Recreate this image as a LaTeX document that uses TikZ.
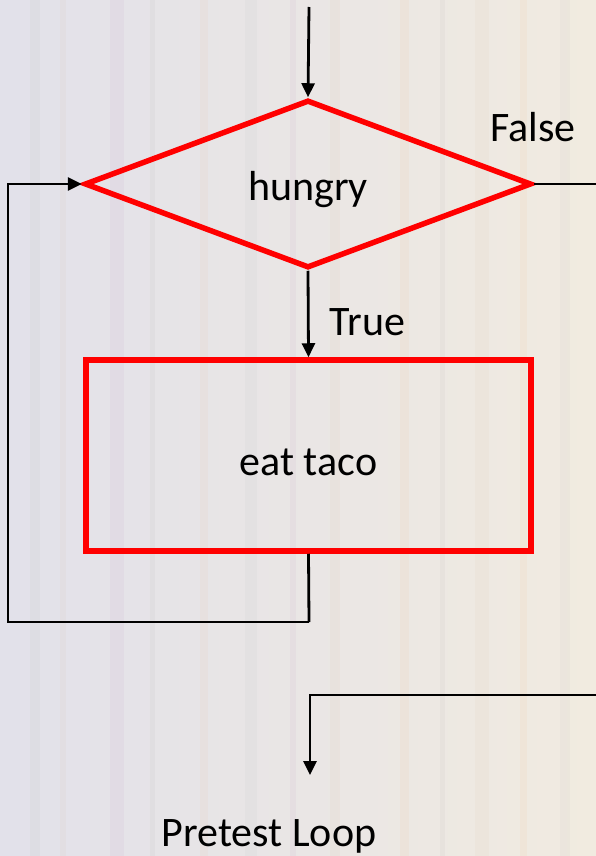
\documentclass[tikz,border=0pt]{standalone}
\usepackage{fontspec}
\setmainfont{Carlito}
\usetikzlibrary{shapes.geometric,arrows.meta}
\definecolor{bgL}{RGB}{226,225,234}
\definecolor{bgR}{RGB}{241,235,224}
\definecolor{flowred}{RGB}{255,0,0}
\tikzset{
  bigfont/.style={font=\fontsize{42}{42}\selectfont},
  decision/.style={diamond, draw=flowred, line width=5.5pt, inner sep=0pt, minimum width=447pt, minimum height=168pt, aspect=2.66, bigfont, text height=33pt, text depth=0pt},
  process/.style={rectangle, draw=flowred, line width=5.5pt, inner sep=0pt, minimum width=445pt, minimum height=191pt, bigfont, text height=39pt, text depth=0pt},
  lbl/.style={bigfont, inner sep=0pt},
  flow/.style={line width=2.8pt, draw=black},
  arr/.style={flow, -{Triangle[length=14pt,width=13pt]}}
}
\begin{document}
\begin{tikzpicture}[x=1pt,y=1pt]
\useasboundingbox (0,0) rectangle (596,-856);
% background
\shade[left color=bgL, right color=bgR] (0,0) rectangle (596,-856);
\foreach \x/\w/\c/\o in {30/10/gray/0.05, 60/6/brown/0.04, 110/14/violet/0.03, 150/5/gray/0.05, 200/8/orange/0.03, 245/12/gray/0.04, 290/6/violet/0.03, 330/10/brown/0.04, 400/9/orange/0.04, 440/5/gray/0.05, 475/14/brown/0.03, 520/7/orange/0.04, 560/10/gray/0.04}{
  \fill[\c, opacity=\o] (\x,0) rectangle ++(\w,-856);
}
% nodes
\node[decision] (d) at (308,-184) {hungry};
\node[process] (r) at (308.5,-455.5) {eat taco};
\node[lbl] (flab) at (533,-127) {False};
\node[lbl] (plab) at (269,-836) {Pretest Loop};
\coordinate (top) at (309,-7);
\coordinate (fr) at (597,-184);
\coordinate (rr) at (597,-695);
\coordinate (rc) at (310,-695);
\coordinate (pa) at (310,-775);
\coordinate (lb) at (309,-622);
\coordinate (ll) at (8,-622);
\coordinate (lt) at (8,-184);
% connectors
\draw[arr] (top) -- (d.north);
\draw[arr] (d.south) -- node[lbl, right=20pt, pos=0.59] (truelab) {True} (r.north);
\draw[flow] (d.east) -- (fr);
\draw[arr] (rr) -- (rc) -- (pa);
\draw[flow] (r.south) -- (lb);
\draw[arr] (lb) -- (ll) -- (lt) -- (d.west);
\end{tikzpicture}
\end{document}
